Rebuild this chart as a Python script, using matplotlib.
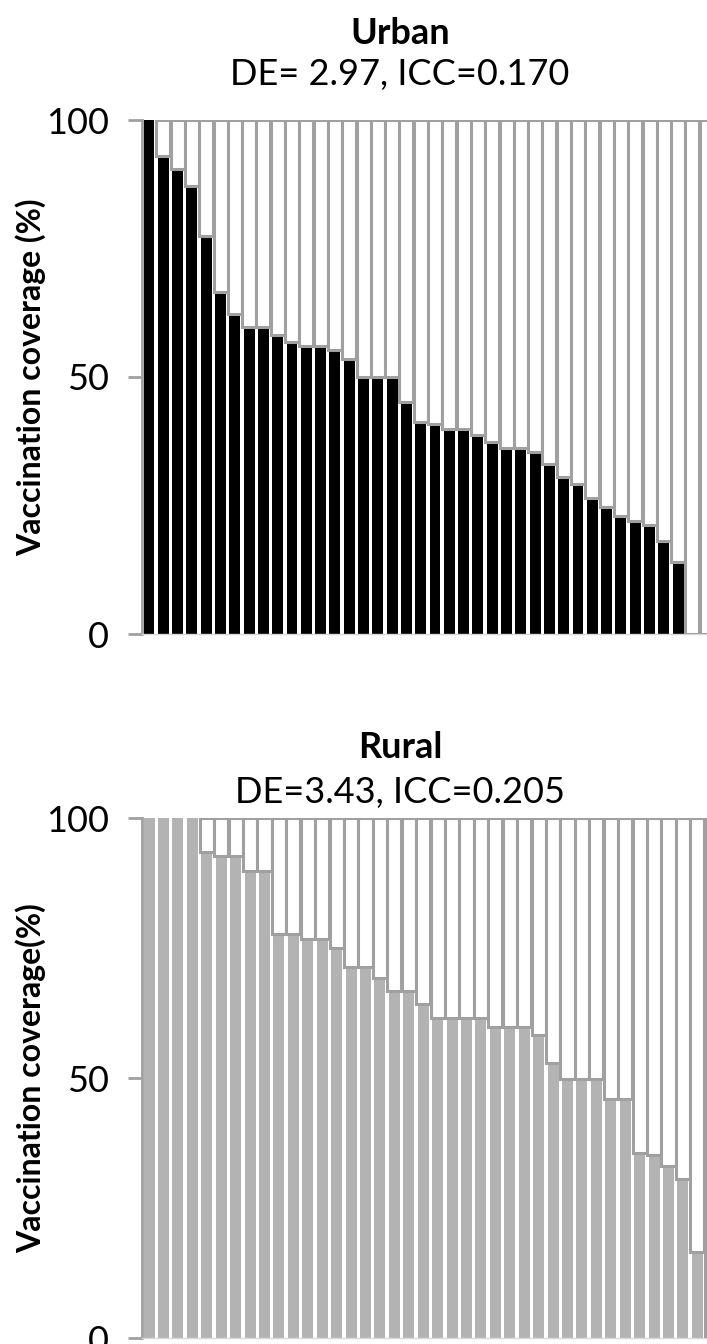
import matplotlib
matplotlib.use("Agg")
import matplotlib.pyplot as plt
import numpy as np

plt.rcParams['font.family'] = ['Lato', 'DejaVu Sans']

# vaccination coverage (%) per cluster, sorted high to low
urban = [100, 93, 90.5, 87.2, 77.5, 66.5, 62.2, 59.8, 59.8, 58.1,
         56.9, 56, 56, 55.2, 53.5, 50, 50, 50, 45.2, 41.3,
         40.8, 39.8, 39.8, 38.7, 37.3, 36.2, 36.2, 35.5, 33.1, 30.5,
         29.2, 26.5, 24.8, 22.9, 22, 21.2, 18, 14.1, 0, 0]
rural = [100, 100, 100, 100, 93.4, 92.7, 92.7, 89.9, 89.9, 77.7,
         77.7, 76.8, 76.8, 75, 71.3, 71.3, 69.2, 66.7, 66.7, 64.2,
         61.5, 61.5, 61.5, 61.5, 59.9, 59.9, 59.9, 58.3, 52.8, 49.9,
         49.9, 49.9, 46, 46, 35.6, 35.1, 33.1, 30.5, 16.6, 0]

titles = ["Urban", "Rural"]
subtitles = ["DE= 2.97, ICC=0.170", "DE=3.43, ICC=0.205"]
ylabels = ["Vaccination coverage (%)", "Vaccination coverage(%)"]
fills = ["black", "#b3b3b3"]
edge = "#a0a0a0"

W, H = 707, 1344
fig = plt.figure(figsize=(W / 100, H / 100), dpi=100)

# axes boxes in pixels: left, top(100), bottom(0), right, pixels per bar
boxes = [(142, 120, 634, 707, 14.3), (142, 818, 1338, 707, 14.43)]
title_y = [34, 74, 748, 792]

for k, data in enumerate([urban, rural]):
    l, t, b, r, pitch = boxes[k]
    ax = fig.add_axes([l / W, 1 - b / H, (r - l) / W, (b - t) / H])
    x = np.arange(len(data))
    v = np.array(data)
    ax.bar(x, v, width=0.76, color=fills[k], linewidth=0, zorder=2)
    rest = 100 - v
    m = rest > 0
    ax.bar(x[m], rest[m], bottom=v[m], width=0.98, color="white",
           edgecolor=edge, linewidth=2.2, zorder=3)
    x0 = -0.4 - 1.3 / pitch
    ax.set_xlim(x0, x0 + (r - l) / pitch)
    ax.set_ylim(0, 100)
    ax.set_yticks([0, 50, 100])
    ax.set_xticks([])
    ax.tick_params(axis="y", direction="out", length=10, width=2, color=edge,
                   labelsize=26, pad=14)
    for s in ["top", "right"]:
        ax.spines[s].set_visible(False)
    ax.spines["left"].set_color(edge)
    ax.spines["left"].set_linewidth(2)
    ax.spines["bottom"].set_color("#d9d9d9")
    ax.spines["bottom"].set_linewidth(1)
    ax.set_ylabel(ylabels[k], fontsize=23, fontweight="bold")
    ax.yaxis.set_label_coords((46 - l) / (r - l), 0.5)

    fig.text(400 / W, 1 - title_y[2 * k] / H, titles[k], ha="center",
             va="center", fontsize=26, fontweight="bold")
    fig.text(400 / W, 1 - title_y[2 * k + 1] / H, subtitles[k], ha="center",
             va="center", fontsize=26)

fig.savefig("out.png", dpi=100)
